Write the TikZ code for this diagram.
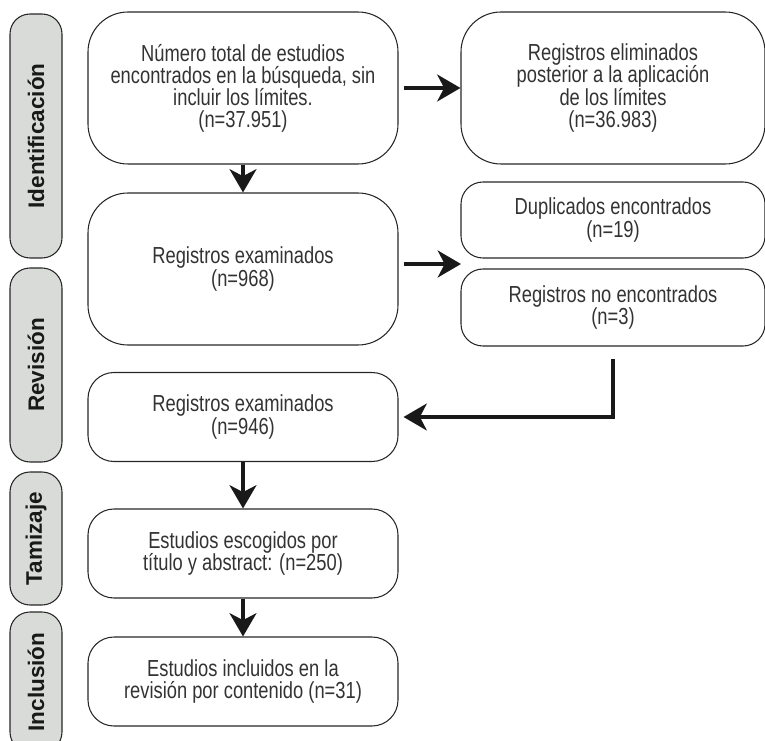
\documentclass[tikz,border=0pt]{standalone}
\usepackage{fontspec}
\setmainfont[FakeStretch=0.79]{Liberation Sans}
\newfontfamily\phasefont{Liberation Sans}
\usetikzlibrary{arrows.meta,positioning}
\definecolor{inkgray}{rgb}{0.2,0.2,0.2}
\definecolor{phasegray}{rgb}{0.85,0.86,0.85}
\newdimen\px \px=0.03cm
\tikzstyle{box}=[draw=black!85, line width=0.9pt, align=center, text=inkgray, font=\fontsize{19.8}{18.8}\selectfont, inner sep=0pt]
\tikzstyle{bigbox}=[box, rounded corners=40\px, minimum width=310\px, minimum height=152\px]
\tikzstyle{smallbox}=[box, rounded corners=26\px, minimum width=310\px, minimum height=89\px]
\tikzstyle{sidebox}=[box, rounded corners=22\px, minimum width=304\px]
\tikzstyle{phase}=[draw=black!85, line width=0.9pt, fill=phasegray, rounded corners=20\px, rotate=90, minimum height=52\px, inner sep=0pt, text=black!90, font=\phasefont\bfseries\fontsize{19.2}{20}\selectfont]
\tikzstyle{flow}=[line width=2.6pt, black!90, -{Stealth[length=0.7cm, width=0.81cm, inset=0.21cm]}]

\begin{document}
\begin{tikzpicture}[x=\px, y=-\px]
    % page size of the reference
    \clip (0,0) rectangle (765,741);

    % phase labels on the left, using a loop
    \foreach \name/\y/\h/\txt in {ident/136/244/Identificación, revis/365/194/Revisión,
      tamiz/538.5/133/Tamizaje, inclu/682/140/Inclusión}
    \node[phase, minimum width=\h\px] (\name) at (36,\y) {\txt};

    % main column
    \node[bigbox] (found) at (243,88) {Número total de estudios\\encontrados en la búsqueda, sin\\incluir los límites.\\(n=37.951)};
    \node[bigbox] (screened) at (243,269) {Registros examinados\\(n=968)};
    \node[smallbox] (kept) at (243,417) {Registros examinados\\(n=946)};
    \node[smallbox] (chosen) at (243,553.5) {Estudios escogidos por\\título y abstract: (n=250)};
    \node[smallbox] (included) at (243,681.5) {Estudios incluidos en la\\revisión por contenido (n=31)};

    % right column
    \node[bigbox, minimum width=304\px] (removed) at (613,88) {Registros eliminados\\posterior a la aplicación\\de los límites\\(n=36.983)};
    \node[sidebox, minimum height=76\px] (dupes) at (613,220) {Duplicados encontrados\\(n=19)};
    \node[sidebox, minimum height=77\px] (missing) at (613,307.5) {Registros no encontrados\\(n=3)};
    \coordinate (gap) at (461,264);

    % arrows
    \draw[flow, shorten <=5\px] (found.east) -- (removed.west);
    \draw[flow] (found.south) -- (screened.north);
    \draw[flow, shorten <=5\px] (screened.east |- gap) -- (gap);
    \draw[flow, shorten <=12\px, shorten >=5\px] (missing.south) |- (kept.east);
    \draw[flow] (kept.south) -- (chosen.north);
    \draw[flow] (chosen.south) -- (included.north);

  \end{tikzpicture}
\end{document}
